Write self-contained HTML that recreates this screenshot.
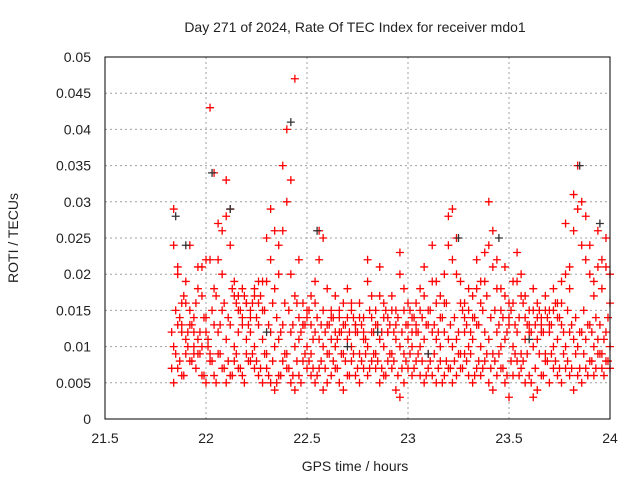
<!DOCTYPE html>
<html><head><meta charset="utf-8"><style>
body{margin:0;background:#fff;}
svg{display:block;font-family:"Liberation Sans",sans-serif;}
</style></head><body>
<svg id="chart" width="640" height="480">
<rect width="640" height="480" fill="#fff"/>
<g id="grid"></g>
<g id="marks"></g>
<g id="axes"></g>
<text x="355" y="32" font-size="14" text-anchor="middle" fill="#222">Day 271 of 2024, Rate Of TEC Index for receiver mdo1</text>
<text x="355" y="471" font-size="14" text-anchor="middle" fill="#222">GPS time / hours</text>
<text x="18" y="238" font-size="14" text-anchor="middle" fill="#222" transform="rotate(-90 18 238)">ROTI / TECUs</text>
</svg>
<script>
const xTicks=[21.5,22,22.5,23,23.5,24];
const xTickLabels=["21.5","22","22.5","23","23.5","24"];
const yTicks=[0,0.005,0.01,0.015,0.02,0.025,0.03,0.035,0.04,0.045,0.05];
const yTickLabels=["0","0.005","0.01","0.015","0.02","0.025","0.03","0.035","0.04","0.045","0.05"];
const tStart=21.84, tStep=0.02, tStart2=21.83;
const seriesLow=[0.005,0.007,0.006,0.009,0.008,0.010,0.009,0.006,0.005,0.008,
0.006,0.009,0.007,0.005,0.006,0.008,0.007,0.006,0.009,0.008,
0.007,0.006,0.005,0.007,0.005,0.004,0.006,0.008,0.007,0.005,
0.004,0.006,0.008,0.007,0.006,0.005,0.007,0.004,0.005,0.006,
0.007,0.005,0.004,0.006,0.008,0.006,0.005,0.007,0.006,0.008,
0.007,0.005,0.006,0.008,0.007,0.004,0.003,0.005,0.007,0.006,
0.008,0.006,0.005,0.007,0.006,0.005,0.008,0.006,0.007,0.005,
0.006,0.007,0.009,0.006,0.005,0.007,0.006,0.008,0.005,0.004,
0.006,0.007,0.005,0.003,0.006,0.008,0.007,0.005,0.006,0.003,
0.004,0.006,0.008,0.005,0.007,0.006,0.005,0.007,0.006,0.004,
0.006,0.005,0.007,0.008,0.006,0.009,0.007,0.008,0.007];
const seriesMid=[0.010,0.013,0.012,0.011,0.013,0.009,0.011,0.010,0.012,0.009,
0.013,0.012,0.015,0.011,0.013,0.010,0.012,0.014,0.011,0.012,
0.010,0.013,0.011,0.009,0.012,0.010,0.011,0.013,0.009,0.012,
0.010,0.011,0.013,0.010,0.009,0.012,0.011,0.010,0.009,0.011,
0.010,0.012,0.009,0.011,0.010,0.012,0.009,0.011,0.010,0.012,
0.009,0.011,0.010,0.012,0.009,0.011,0.010,0.009,0.011,0.010,
0.012,0.010,0.011,0.009,0.012,0.011,0.010,0.012,0.011,0.010,
0.011,0.009,0.012,0.010,0.011,0.013,0.010,0.012,0.011,0.009,
0.012,0.010,0.011,0.013,0.010,0.012,0.009,0.011,0.012,0.010,
0.011,0.013,0.009,0.012,0.010,0.011,0.013,0.010,0.012,0.011,
0.010,0.012,0.011,0.013,0.010,0.011,0.009,0.012,0.010];
const seriesHigh=[0.029,0.021,0.016,0.019,0.024,0.014,0.018,0.021,0.022,0.043,
0.034,0.027,0.026,0.033,0.029,0.019,0.017,0.018,0.016,0.015,
0.017,0.019,0.019,0.025,0.029,0.026,0.024,0.035,0.040,0.033,
0.047,0.022,0.016,0.014,0.017,0.019,0.026,0.025,0.018,0.015,
0.017,0.014,0.016,0.018,0.015,0.013,0.016,0.014,0.022,0.017,
0.015,0.021,0.016,0.014,0.017,0.015,0.023,0.018,0.016,0.014,
0.016,0.018,0.021,0.015,0.024,0.019,0.017,0.020,0.028,0.029,
0.025,0.019,0.016,0.018,0.017,0.022,0.019,0.023,0.030,0.026,
0.022,0.018,0.021,0.016,0.019,0.023,0.020,0.017,0.015,0.018,
0.016,0.014,0.017,0.015,0.018,0.016,0.019,0.027,0.021,0.031,
0.035,0.030,0.028,0.024,0.019,0.026,0.022,0.025,0.020];
const seriesUpper=[0.024,0.020,0.013,0.016,0.015,0.012,0.021,0.017,0.014,0.022,
0.018,0.022,0.020,0.028,0.024,0.017,0.015,0.013,0.016,0.014,
0.018,0.016,0.015,0.019,0.022,0.018,0.020,0.026,0.030,0.020,
0.017,0.014,0.013,0.015,0.013,0.016,0.022,0.015,0.013,0.014,
0.012,0.015,0.013,0.014,0.016,0.013,0.014,0.012,0.019,0.014,
0.013,0.017,0.014,0.012,0.015,0.013,0.020,0.015,0.013,0.012,
0.013,0.015,0.017,0.013,0.019,0.016,0.014,0.016,0.024,0.022,
0.020,0.016,0.014,0.015,0.014,0.018,0.016,0.019,0.024,0.021,
0.018,0.015,0.017,0.014,0.016,0.019,0.017,0.014,0.013,0.015,
0.014,0.012,0.015,0.013,0.015,0.014,0.016,0.020,0.018,0.026,
0.029,0.024,0.022,0.020,0.017,0.021,0.018,0.021,0.016];
const seriesLow2=[0.007,0.009,0.008,0.006,0.010,0.008,0.007,0.009,0.006,0.010,
0.008,0.005,0.009,0.007,0.008,0.006,0.009,0.007,0.005,0.008,
0.009,0.008,0.007,0.009,0.006,0.008,0.005,0.006,0.009,0.007,
0.006,0.008,0.005,0.009,0.008,0.007,0.006,0.008,0.007,0.009,
0.008,0.007,0.009,0.008,0.006,0.009,0.007,0.008,0.009,0.007,
0.009,0.008,0.007,0.006,0.009,0.008,0.006,0.007,0.008,0.009,
0.007,0.009,0.008,0.006,0.008,0.009,0.007,0.005,0.008,0.007,
0.008,0.009,0.007,0.008,0.009,0.006,0.008,0.007,0.009,0.007,
0.008,0.009,0.007,0.006,0.008,0.009,0.006,0.008,0.009,0.005,
0.007,0.009,0.006,0.008,0.009,0.008,0.007,0.009,0.008,0.007,
0.009,0.007,0.009,0.006,0.008,0.007,0.009,0.006,0.008];
const seriesMid2=[0.012,0.015,0.014,0.017,0.012,0.013,0.016,0.012,0.014,0.011,
0.015,0.017,0.013,0.016,0.014,0.018,0.016,0.015,0.017,0.013,
0.016,0.014,0.017,0.015,0.013,0.016,0.014,0.012,0.016,0.015,
0.013,0.016,0.012,0.013,0.015,0.011,0.014,0.013,0.012,0.013,
0.014,0.011,0.012,0.013,0.012,0.014,0.012,0.013,0.011,0.015,
0.012,0.013,0.012,0.015,0.013,0.012,0.014,0.012,0.013,0.015,
0.014,0.012,0.014,0.013,0.015,0.013,0.012,0.014,0.016,0.013,
0.014,0.012,0.015,0.013,0.012,0.014,0.013,0.015,0.017,0.014,
0.015,0.013,0.014,0.012,0.015,0.013,0.014,0.016,0.013,0.012,
0.013,0.015,0.012,0.014,0.013,0.016,0.014,0.012,0.015,0.013,
0.014,0.012,0.015,0.013,0.012,0.014,0.013,0.011,0.014];
const blackTimes=[21.85,21.9,22.03,22.12,22.42,22.55,22.85,23.25,23.45,23.85,23.95,22.3,22.7,23.1,23.6];
const blackValues=[0.028,0.024,0.034,0.029,0.041,0.026,0.012,0.025,0.025,0.035,0.027,0.012,0.010,0.009,0.011];

const X0=105,X1=610,Y0=419,Y1=57;
const xs=v=>X0+(v-21.5)/(24-21.5)*(X1-X0);
const ys=v=>Y0-(v/0.05)*(Y0-Y1);
const NS="http://www.w3.org/2000/svg";
const grid=document.getElementById('grid'),axes=document.getElementById('axes'),marks=document.getElementById('marks');
function mk(tag,attrs,parent){const e=document.createElementNS(NS,tag);for(const k in attrs)e.setAttribute(k,attrs[k]);parent.appendChild(e);return e;}
xTicks.forEach((t,i)=>{
  const x=xs(t);
  if(i>0&&i<xTicks.length-1){const g=mk('line',{x1:x,x2:x,y1:Y0,y2:Y1,stroke:'#a0a0a0','stroke-dasharray':'2,3','stroke-width':1},grid);
  
  }
  const l=mk('text',{x:x,y:Y0+24,'font-size':14,'text-anchor':'middle',fill:'#222'},axes);
  l.textContent=xTickLabels[i];
  
  
});
yTicks.forEach((t,i)=>{
  const y=ys(t);
  if(i>0&&i<yTicks.length-1){const g=mk('line',{x1:X0,x2:X1,y1:y,y2:y,stroke:'#a0a0a0','stroke-dasharray':'2,3','stroke-width':1},grid);
  
  }
  const l=mk('text',{x:X0-14,y:y+5,'font-size':14,'text-anchor':'end',fill:'#222'},axes);
  l.textContent=yTickLabels[i];
  
  
});
const frame=mk('rect',{x:X0,y:Y1,width:X1-X0,height:Y0-Y1,fill:'none',stroke:'#000','stroke-width':1},axes);


function plus(t,v,color){
  const x=xs(t),y=ys(v);
  const p=mk('path',{d:`M${x-4},${y}H${x+4}M${x},${y-4}V${y+4}`,stroke:color,'stroke-width':1.3,fill:'none'},marks);
  
  
}
[seriesLow,seriesMid,seriesUpper,seriesHigh].forEach(s=>s.forEach((v,i)=>plus(tStart+i*tStep,v,'#ff0000')));
[seriesLow2,seriesMid2].forEach(s=>s.forEach((v,i)=>plus(tStart2+i*tStep,v,'#ff0000')));
blackTimes.forEach((t,i)=>plus(t,blackValues[i],'#333'));
</script>
</body></html>
